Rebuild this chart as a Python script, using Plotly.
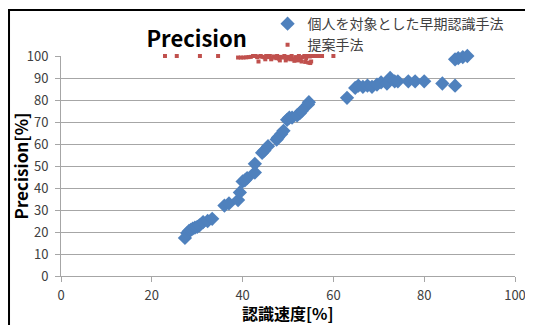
import plotly.graph_objects as go

early_x = [27.3, 27.8, 28.2, 28.6, 29.0, 29.5, 30.0, 30.5, 31.3, 32.3, 33.3, 36.0, 37.0, 39.0, 39.4, 40.0, 40.5,
           41.0, 42.7, 42.7, 44.3, 44.8, 45.6, 47.5, 47.8, 48.5, 49.0, 49.8, 50.3, 50.9, 52.0, 52.6, 53.0,
           54.4, 54.6, 63.0, 64.8, 65.5, 66.5, 67.5, 68.5, 69.6, 70.5, 71.8, 72.5, 73.5, 74.2, 76.5, 78.0,
           80.0, 84.0, 86.8, 86.8, 87.5, 88.5, 89.5, 90.5]
early_y = [17.3, 19.5, 20.5, 21.0, 21.5, 22.0, 22.3, 23.0, 24.5, 25.0, 26.0, 32.0, 33.0, 34.5, 38.0, 43.0, 43.5,
           44.5, 47.0, 51.0, 56.0, 57.0, 59.0, 62.0, 63.0, 64.5, 66.0, 71.0, 72.0, 72.0, 73.0, 74.0, 75.0,
           78.0, 79.0, 81.0, 85.5, 86.5, 86.0, 86.5, 86.0, 87.0, 88.0, 87.5, 90.0, 88.5, 88.5, 88.5, 88.5,
           88.5, 87.5, 86.5, 98.5, 99.0, 99.5, 100.0, 100.5]

prop_x = [22.9, 25.5, 30.6, 34.6, 39.0, 39.6, 40.2, 40.8, 41.3, 41.8, 42.3, 42.8, 43.2, 43.6, 44.0, 44.4,
          44.8, 45.2, 45.6, 46.0, 46.4, 46.8, 47.2, 47.6, 48.0, 48.4, 48.8, 49.2, 49.6, 50.0, 50.4, 50.8,
          51.2, 51.6, 52.0, 52.4, 52.8, 53.2, 53.6, 54.0, 54.4, 54.8, 55.3, 56.0, 56.8, 57.5, 60.0,
          43.5, 45.0, 46.3, 47.4, 48.2, 49.5, 50.5, 51.4, 52.2, 53.0, 53.8, 54.5, 54.9, 55.1]
prop_y = [100, 100, 100, 100, 99.3, 99.3, 99.3, 99.4, 99.5, 99.6, 100, 100, 99.5, 99.8, 100, 99.6,
          99.4, 100, 99.5, 100, 99.0, 99.8, 99.5, 100, 98.8, 99.6, 99.3, 100, 98.7, 99.6, 99.0, 100,
          98.5, 99.5, 99.2, 100, 98.3, 99.5, 100, 99.0, 100, 99.8, 100, 100, 100, 100, 100,
          97.5, 98.5, 98.5, 99.0, 98.0, 98.0, 98.5, 97.8, 98.0, 97.5, 97.3, 97.0, 96.8, 97.5]

x_ticks = [0, 20, 40, 60, 80, 100]
y_ticks = [0, 10, 20, 30, 40, 50, 60, 70, 80, 90, 100]
x_title = "認識速度[%]"

font_jp = "Noto Sans CJK JP"
txt = "#404040"

fig = go.Figure()
fig.add_trace(go.Scatter(
    x=early_x, y=early_y, mode="markers", name="個人を対象とした早期認識手法",
    marker=dict(symbol="diamond", size=11, color="#4F81BD"), cliponaxis=False))
fig.add_trace(go.Scatter(
    x=prop_x, y=prop_y, mode="markers", name="提案手法",
    marker=dict(symbol="square", size=4, color="#C0504D"), cliponaxis=False))

fig.update_layout(
    width=533, height=325,
    margin=dict(l=53, r=26, t=48, b=57, autoexpand=False),
    paper_bgcolor="white", plot_bgcolor="white",
    font=dict(family=font_jp, size=13, color=txt),
    showlegend=True,
    legend=dict(x=0.455, y=1.218, xanchor="left", yanchor="top",
                bgcolor="rgba(0,0,0,0)", font=dict(size=14, color=txt),
                itemsizing="trace", tracegroupgap=0, itemwidth=30),
    title=dict(text="<b>Precision</b>", x=0.354, xanchor="center", y=0.905, yanchor="middle",
               font=dict(family=font_jp, size=22, color="black")),
    xaxis=dict(range=[0, 100], tickvals=x_ticks, showgrid=False, zeroline=False,
               showline=True, linecolor="#A6A6A6", linewidth=1,
               ticks="outside", ticklen=5, tickcolor="#A6A6A6", ticklabelstandoff=2,
               tickfont=dict(size=13, color=txt)),
    yaxis=dict(range=[0, 100], tickvals=y_ticks, showgrid=True, gridcolor="#A6A6A6", gridwidth=1,
               zeroline=False, showline=True, linecolor="#A6A6A6", linewidth=1,
               ticks="outside", ticklen=5, tickcolor="#A6A6A6", ticklabelstandoff=4,
               tickfont=dict(size=13, color=txt),
               title=dict(text="<b>Precision[%]</b>", font=dict(size=17, color="black"), standoff=1)),
)

fig.add_annotation(text="<b>" + x_title + "</b>", xref="paper", yref="paper", x=0.5, y=-0.168,
                   xanchor="center", yanchor="middle", showarrow=False,
                   font=dict(family=font_jp, size=16, color="black"))

fig.add_shape(type="rect", xref="paper", yref="paper",
              x0=-0.1145, x1=1.1, y0=-0.5, y1=1.209,
              line=dict(color="black", width=2), fillcolor="rgba(0,0,0,0)", layer="below")

fig.write_html("out.html")
